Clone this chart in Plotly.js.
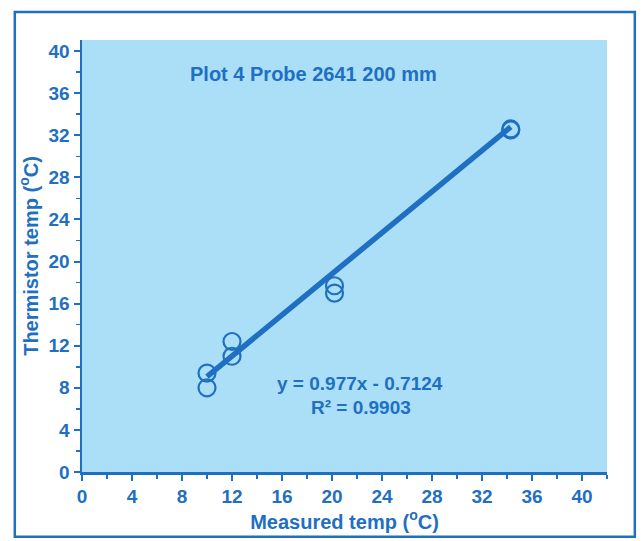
<!DOCTYPE html>
<html>
<head>
<meta charset="utf-8">
<script src="https://cdn.plot.ly/plotly-3.0.1.min.js"></script>
<style>
  html, body { margin: 0; padding: 0; background: #ffffff; }
  #chart { width: 642px; height: 541px; }
</style>
</head>
<body>
<div id="chart"></div>
<script>
// Probe 2641 at 200 mm: measured vs thermistor temperatures
const measuredTemp   = [10, 10, 12, 12, 20.2, 20.2, 34.3, 34.3];
const thermistorTemp = [9.4, 8.0, 12.4, 11.0, 17.7, 17.0, 32.6, 32.5];

// Linear fit reported on the chart
const fitSlope = 0.977;
const fitIntercept = -0.7124;
const fitR2 = 0.9903;

const tickValues = [0, 4, 8, 12, 16, 20, 24, 28, 32, 36, 40];

const blue = '#1f6fc2';
const fontFam = 'Liberation Sans, Arial, sans-serif';

const xMin = Math.min(...measuredTemp);
const xMax = Math.max(...measuredTemp);
const fitX = [xMin, xMax];
const fitY = fitX.map(x => fitSlope * x + fitIntercept);

const traces = [
  {
    x: fitX, y: fitY, type: 'scatter', mode: 'lines',
    line: { color: blue, width: 5.5 },
    hoverinfo: 'skip', showlegend: false
  },
  {
    x: measuredTemp, y: thermistorTemp, type: 'scatter', mode: 'markers',
    marker: { symbol: 'circle-open', size: 17, color: blue, line: { color: blue, width: 2.2 } },
    showlegend: false
  }
];

const axisCommon = {
  tickvals: tickValues,
  ticks: 'outside', ticklen: 6, tickwidth: 2, tickcolor: blue,
  showline: true, linecolor: blue, linewidth: 2.5,
  showgrid: false, zeroline: false,
  tickfont: { family: fontFam, size: 19, color: blue, weight: 'bold' },
  minor: { dtick: 2, ticks: 'outside', ticklen: 4, tickwidth: 1.5, tickcolor: blue, showgrid: false }
};

const layout = {
  width: 642, height: 541,
  margin: { l: 82, r: 35, t: 40, b: 69 },
  paper_bgcolor: '#ffffff',
  plot_bgcolor: '#aadff7',
  font: { family: fontFam, color: blue },
  xaxis: Object.assign({}, axisCommon, {
    range: [0, 42],
    title: { text: 'Measured temp (<sup>o</sup>C)', font: { family: fontFam, size: 20, color: blue, weight: 'bold' }, standoff: 3 }
  }),
  yaxis: Object.assign({}, axisCommon, {
    range: [0, 41.05],
    title: { text: 'Thermistor temp (<sup>o</sup>C)', font: { family: fontFam, size: 20, color: blue, weight: 'bold' }, standoff: 5 }
  }),
  annotations: [
    {
      x: 0.44, y: 0.921, xref: 'paper', yref: 'paper', showarrow: false,
      xanchor: 'center', yanchor: 'middle',
      text: 'Plot 4 Probe 2641 200 mm',
      font: { family: fontFam, size: 20, color: blue, weight: 'bold' }
    },
    {
      x: 22.2, y: 8.4, xref: 'x', yref: 'y', showarrow: false,
      xanchor: 'center', yanchor: 'middle',
      text: 'y = ' + fitSlope + 'x - ' + Math.abs(fitIntercept),
      font: { family: fontFam, size: 19, color: blue, weight: 'bold' }
    },
    {
      x: 22.3, y: 6.1, xref: 'x', yref: 'y', showarrow: false,
      xanchor: 'center', yanchor: 'middle',
      text: 'R² = ' + fitR2,
      font: { family: fontFam, size: 19, color: blue, weight: 'bold' }
    }
  ],
  shapes: [
    {
      type: 'rect', xref: 'paper', yref: 'paper',
      x0: -0.128, x1: 1.053, y0: -0.15, y1: 1.065,
      line: { color: blue, width: 2.5 }, fillcolor: 'rgba(0,0,0,0)', layer: 'below'
    }
  ]
};

Plotly.newPlot('chart', traces, layout, { displayModeBar: false, staticPlot: true });
</script>
</body>
</html>
